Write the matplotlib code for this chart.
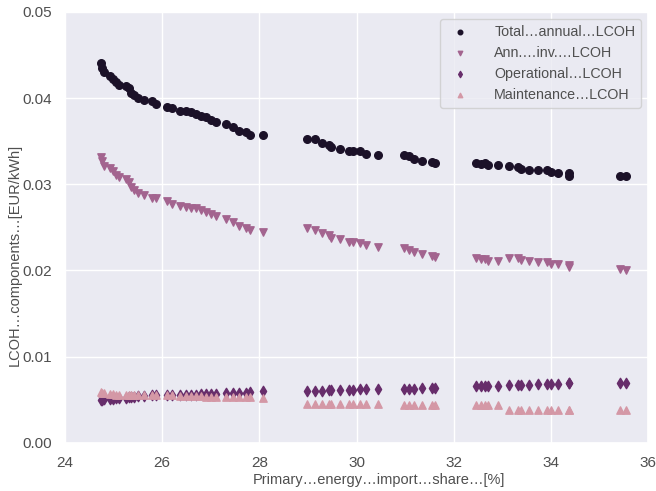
import numpy as np
import matplotlib
matplotlib.use("Agg")
import matplotlib.pyplot as plt
import seaborn as sns

# primary energy import share [%]
import_share = [
    24.74, 24.77, 24.80, 24.92, 24.98, 25.05, 25.11, 25.25, 25.32, 25.35,
    25.42, 25.51, 25.63, 25.80, 25.87, 26.09, 26.21, 26.36, 26.49, 26.60,
    26.69, 26.80, 26.90, 27.00, 27.11, 27.31, 27.45, 27.59, 27.73, 27.81,
    28.08,
    28.98, 29.14, 29.28, 29.43, 29.48, 29.66, 29.85, 29.92, 30.08, 30.19,
    30.44,
    30.98, 31.07, 31.18, 31.35, 31.55, 31.62,
    32.45, 32.56, 32.64, 32.71, 32.92, 33.13, 33.32, 33.39, 33.54, 33.73,
    33.92, 34.01, 34.14, 34.37, 34.37,
    35.42, 35.54,
]

total_lcoh = [
    0.0441, 0.0435, 0.0430, 0.0426, 0.0422, 0.0418, 0.0415, 0.0414, 0.0412, 0.0406,
    0.0404, 0.0400, 0.0398, 0.0397, 0.0393, 0.0390, 0.0388, 0.0385, 0.0385, 0.0384,
    0.0382, 0.0379, 0.0378, 0.0375, 0.0372, 0.0370, 0.0366, 0.0362, 0.0360, 0.0357,
    0.0357,
    0.0353, 0.0352, 0.0348, 0.0346, 0.0343, 0.0341, 0.0339, 0.0339, 0.0338, 0.0335,
    0.0334,
    0.0334, 0.0333, 0.0329, 0.0327, 0.0326, 0.0325,
    0.0325, 0.0324, 0.0325, 0.0322, 0.0322, 0.0321, 0.0320, 0.0318, 0.0317, 0.0316,
    0.0316, 0.0314, 0.0313, 0.0313, 0.0310,
    0.0309, 0.0309,
]

inv_lcoh = [
    0.0332, 0.0327, 0.0321, 0.0319, 0.0315, 0.0311, 0.0308, 0.0306, 0.0303, 0.0297,
    0.0293, 0.0290, 0.0287, 0.0284, 0.0284, 0.0281, 0.0277, 0.0275, 0.0274, 0.0273,
    0.0272, 0.0270, 0.0268, 0.0265, 0.0263, 0.0260, 0.0256, 0.0251, 0.0249, 0.0247,
    0.0245,
    0.0249, 0.0247, 0.0243, 0.0241, 0.0238, 0.0236, 0.0233, 0.0233, 0.0232, 0.0229,
    0.0227,
    0.0226, 0.0224, 0.0221, 0.0219, 0.0217, 0.0216,
    0.0215, 0.0213, 0.0213, 0.0211, 0.0211, 0.0215, 0.0215, 0.0212, 0.0211, 0.0210,
    0.0210, 0.0208, 0.0207, 0.0206, 0.0204,
    0.0202, 0.0201,
]

op_lcoh = [
    0.0050, 0.0050, 0.0051, 0.0051, 0.0051, 0.0052, 0.0052, 0.0052, 0.0053, 0.0053,
    0.0053, 0.0054, 0.0054, 0.0055, 0.0055, 0.0055, 0.0055, 0.0056, 0.0056, 0.0056,
    0.0056, 0.0057, 0.0057, 0.0057, 0.0057, 0.0058, 0.0058, 0.0058, 0.0058, 0.0059,
    0.0060,
    0.0060, 0.0060, 0.0060, 0.0061, 0.0061, 0.0061, 0.0061, 0.0061, 0.0062, 0.0062,
    0.0062,
    0.0063, 0.0063, 0.0063, 0.0064, 0.0064, 0.0064,
    0.0066, 0.0066, 0.0066, 0.0066, 0.0066, 0.0067, 0.0067, 0.0067, 0.0067, 0.0068,
    0.0068, 0.0068, 0.0068, 0.0069, 0.0069,
    0.0070, 0.0070,
]

maint_lcoh = [
    0.0059, 0.0058, 0.0058, 0.0057, 0.0057, 0.0056, 0.0056, 0.0056, 0.0056, 0.0056,
    0.0055, 0.0055, 0.0055, 0.0055, 0.0055, 0.0055, 0.0055, 0.0054, 0.0054, 0.0054,
    0.0054, 0.0054, 0.0053, 0.0053, 0.0053, 0.0053, 0.0053, 0.0053, 0.0053, 0.0053,
    0.0052,
    0.0045, 0.0045, 0.0045, 0.0045, 0.0045, 0.0045, 0.0045, 0.0045, 0.0045, 0.0045,
    0.0045,
    0.0044, 0.0044, 0.0044, 0.0044, 0.0044, 0.0044,
    0.0044, 0.0044, 0.0044, 0.0044, 0.0044, 0.0038, 0.0038, 0.0038, 0.0038, 0.0038,
    0.0038, 0.0038, 0.0038, 0.0038, 0.0038,
    0.0038, 0.0038,
]

sns.set_theme(style="darkgrid")
plt.rcParams['font.family'] = ['Liberation Sans', 'DejaVu Sans']
grey = '#4f4f4f'
plt.rcParams['text.color'] = grey
plt.rcParams['axes.labelcolor'] = grey
plt.rcParams['xtick.color'] = grey
plt.rcParams['ytick.color'] = grey

fig, ax = plt.subplots(figsize=(6.56, 4.91), dpi=100)
fig.subplots_adjust(left=0.099, right=0.988, top=0.976, bottom=0.098)

ax.scatter(import_share, total_lcoh, marker='o', s=30, color='#1b1128',
           label='Total\u2026annual\u2026LCOH')
ax.scatter(import_share, inv_lcoh, marker='v', s=28, color='#a3648f',
           label='Ann.\u2026inv.\u2026LCOH')
ax.scatter(import_share, op_lcoh, marker='d', s=28, color='#672d6b',
           label='Operational\u2026LCOH')
ax.scatter(import_share, maint_lcoh, marker='^', s=28, color='#d498a6',
           label='Maintenance\u2026LCOH')

ax.set_xlim(24, 36)
ax.set_ylim(0, 0.05)
ax.set_xticks(np.arange(24, 37, 2))
ax.set_yticks(np.arange(0, 0.051, 0.01))
ax.tick_params(labelsize=11)
ax.yaxis.set_major_formatter(matplotlib.ticker.FormatStrFormatter('%.2f'))
ax.set_xlabel('Primary\u2026energy\u2026import\u2026share\u2026[%]', fontsize=10.5)
ax.set_ylabel('LCOH\u2026components\u2026[EUR/kWh]', fontsize=10.5)
# labels sit a bit off-centre in the original
ax.xaxis.set_label_coords(0.539, -0.071)
ax.yaxis.set_label_coords(-0.074, 0.436)
ax.legend(loc='upper right', fontsize=10.3, markerscale=0.6,
          handletextpad=1.4, edgecolor='#cccccc', framealpha=0.8)

plt.savefig('out.png', dpi=100)
